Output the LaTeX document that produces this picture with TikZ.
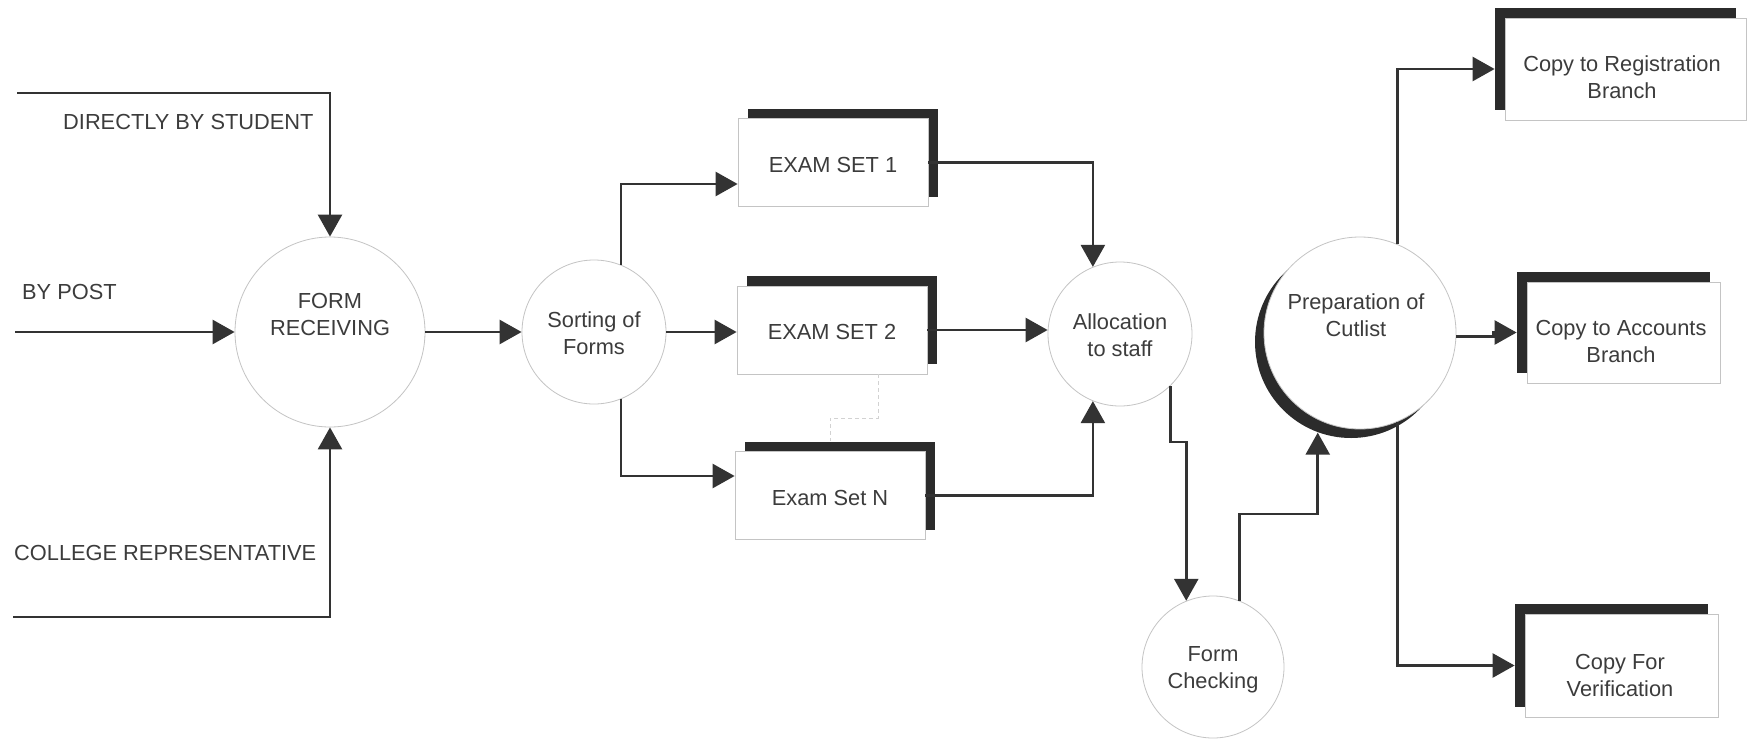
\documentclass[tikz,border=0pt]{standalone}
\usepackage{fontspec}
\setmainfont{Liberation Sans}
\usetikzlibrary{arrows.meta,shadows}
\definecolor{ink}{HTML}{333333}
\definecolor{txtc}{HTML}{3C3C3C}
\definecolor{rim}{HTML}{C4C4C4}
\definecolor{shade}{HTML}{2B2B2B}

\begin{document}
\begin{tikzpicture}[x=1pt,y=-1pt,
  flow/.style={draw=ink, line width=2.6pt, -{Triangle[length=22pt,width=24pt]}},
  bubble/.style={circle, draw=rim, line width=0.8pt, fill=white, inner sep=0pt},
  store/.style={rectangle, draw=rim, line width=0.8pt, fill=white, inner sep=0pt},
  storeR/.style={store, minimum width=190pt, minimum height=88pt,
    general shadow={fill=shade, shadow xshift=10pt, shadow yshift=10pt}},
  storeL/.style={store,
    general shadow={fill=shade, shadow xshift=-10pt, shadow yshift=10pt}},
  txt/.style={text=txtc, font=\fontsize{21.8pt}{27pt}\selectfont, align=center, inner sep=0pt},
  ellip/.style={draw=gray!35, line width=1pt, dash pattern=on 4pt off 3pt}
]
\useasboundingbox (0,0) rectangle (1751,739);
\fill[white] (0,0) rectangle (1751,739);

% processes
\node[bubble, minimum size=190pt] (recv) at (330,332) {};
\node[txt] (recvT) at (330,314) {FORM\\RECEIVING};
\node[bubble, minimum size=144pt] (sort) at (594,332) {};
\node[txt] (sortT) at (594,333) {Sorting of\\Forms};
\node[bubble, minimum size=144pt] (alloc) at (1120,334) {};
\node[txt] (allocT) at (1120,335) {Allocation\\to staff};
\node[bubble, minimum size=142pt] (check) at (1213,667) {};
\node[txt] (checkT) at (1213,670) {Form\\Checking};
\node[bubble, minimum size=192pt,
  general shadow={fill=shade, shadow xshift=-9pt, shadow yshift=-9pt}] (prep) at (1360,333) {};
\node[txt] (prepT) at (1356,315) {Preparation of\\Cutlist};

% exam sets
\node[storeR] (e1) at (833,162.5) {};
\node[txt] (e1T) at (833,165) {EXAM SET 1};
\node[storeR] (e2) at (832,330) {};
\node[txt] (e2T) at (832,332) {EXAM SET 2};
\node[storeR] (eN) at (830,495.5) {};
\node[txt] (eNT) at (830,498) {Exam Set N};

% copies
\node[storeL, minimum width=241pt, minimum height=102pt] (reg) at (1625.5,69) {};
\node[txt] (regT) at (1622,77) {Copy to Registration\\Branch};
\node[storeL, minimum width=193pt, minimum height=101pt] (acc) at (1623.5,332.5) {};
\node[txt] (accT) at (1621,341) {Copy to Accounts\\Branch};
\node[storeL, minimum width=193pt, minimum height=103pt] (ver) at (1621.5,665.5) {};
\node[txt] (verT) at (1620,675) {Copy For\\Verification};

% sources
\node[txt, anchor=west] (lblD) at (63,122) {DIRECTLY BY STUDENT};
\node[txt, anchor=west] (lblP) at (22,292) {BY POST};
\node[txt, anchor=west] (lblC) at (14,553) {COLLEGE REPRESENTATIVE};
\coordinate (srcD) at (17,93);
\coordinate (srcP) at (15,332);
\coordinate (srcC) at (13,617);

% flows
\draw[flow] (srcD) -| (recv.north);
\draw[flow] (srcP) -- (recv.west);
\draw[flow] (srcC) -| (recv.south);
\draw[flow] (recv.east) -- (sort.west);
\draw[flow] (sort.68) |- ([yshift=-21.5pt]e1.west);
\draw[flow] (sort.east) -- (sort.east -| e2.west);
\draw[flow] (sort.-68) |- ([yshift=19.5pt]eN.west);
\draw[flow] (e1.east) -| (alloc.112);
\draw[flow] (e2.east) -- (e2.east -| alloc.west);
\draw[flow] (eN.east) -| (alloc.-112);
\draw[flow] (alloc.-46) -- ++(0,56) -| (check.112);
\draw[flow] (check.68) -- ++(0,-87) -| ([yshift=-13pt]prep.-116);
\draw[flow] (prep.67) |- ([xshift=-10pt]reg.west);
\draw[flow] (prep.-2) -- ++(37,0) |- ([xshift=-10pt]acc.west);
\draw[flow] (prep.-67) |- ([xshift=-10pt]ver.west);
\draw[ellip] ([xshift=46pt]e2.south) -- ++(0,44) -| ([yshift=10pt]eN.north);
\end{tikzpicture}
\end{document}
